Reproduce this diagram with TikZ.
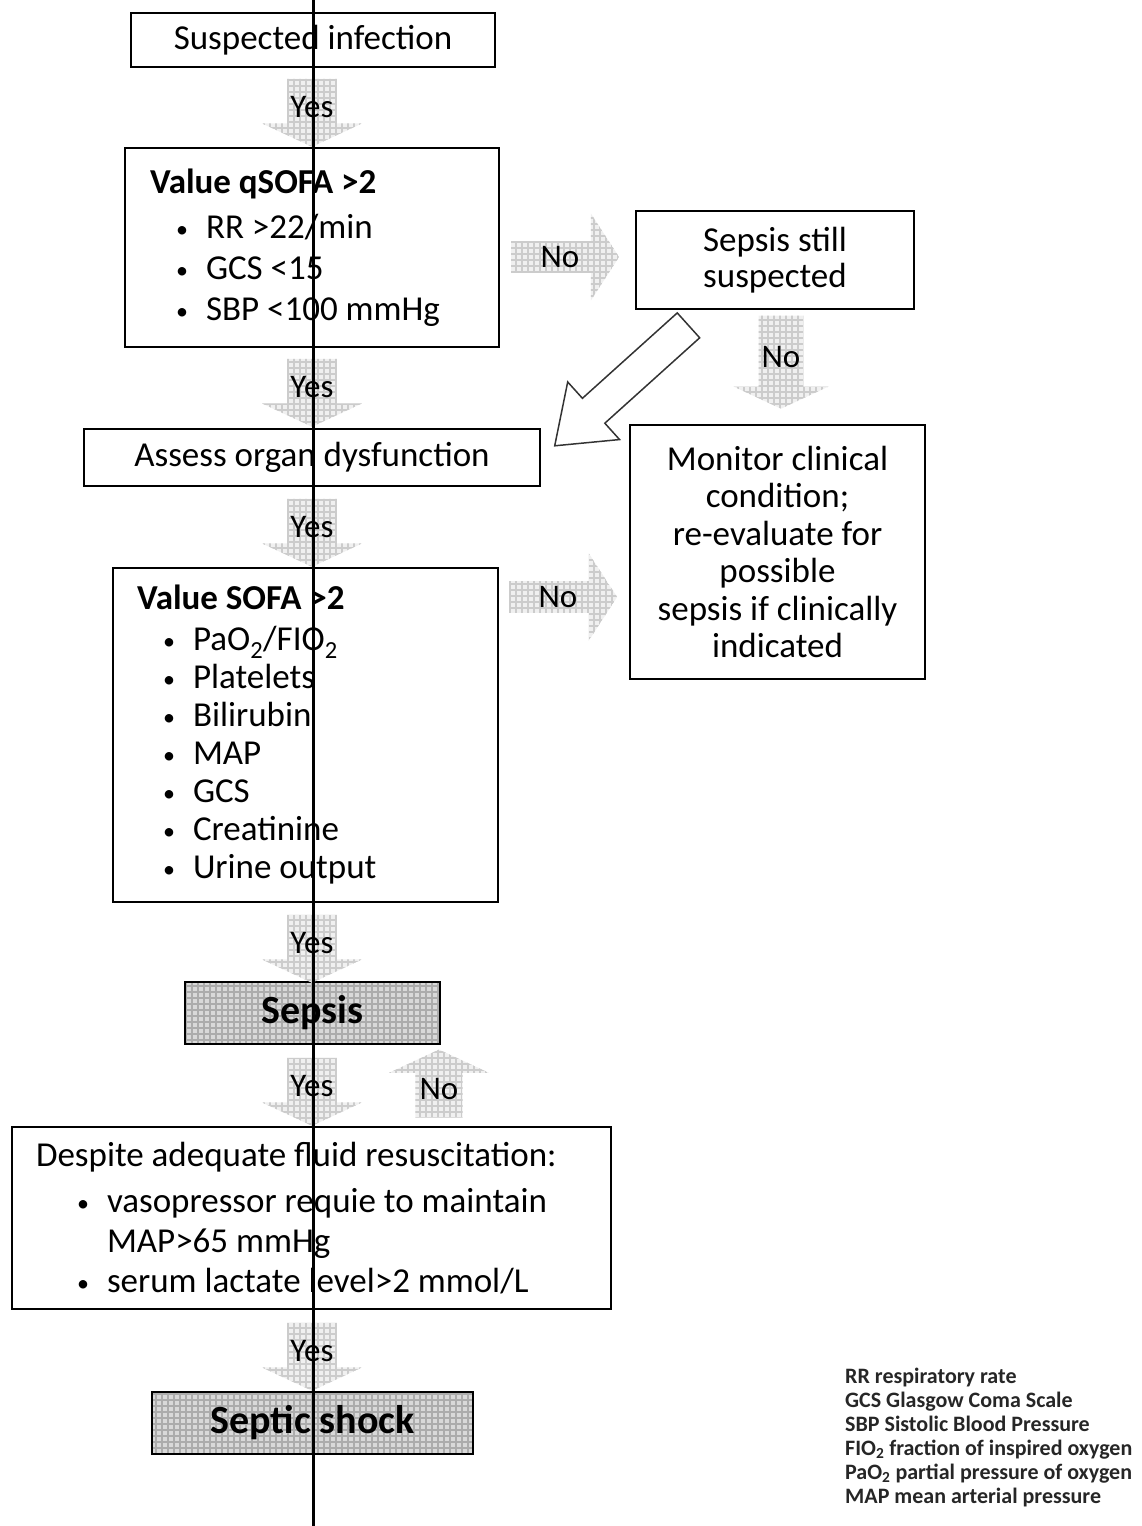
\documentclass[tikz,border=0pt]{standalone}
\usepackage{fontspec}
\setmainfont{Carlito}
\usetikzlibrary{shapes.arrows,patterns.meta}
\newcommand{\sepbullet}{\makebox[30pt][l]{\raisebox{1pt}{\fontsize{24}{24}\selectfont\textbullet}}}

\begin{document}
\begin{tikzpicture}[x=1pt,y=-1pt,
  box/.style={draw,line width=2.5pt,rectangle,inner sep=0pt,font=\fontsize{35}{36}\selectfont},
  shaded/.style={box,preaction={fill=gray!30},pattern={Hatch[angle=0,distance=6pt,line width=1.4pt]},pattern color=gray!65,font=\fontsize{40}{40}\bfseries},
  blockarrow/.style={single arrow,preaction={fill=gray!12},pattern={Hatch[angle=0,distance=6pt,line width=1.4pt]},pattern color=gray!40,inner sep=0pt,minimum height=68pt,minimum width=100pt,single arrow head extend=22pt,single arrow tip angle=130,font=\fontsize{33}{34}\selectfont},
  sidearrow/.style={blockarrow,minimum height=108pt,minimum width=87pt,single arrow head extend=19pt,single arrow tip angle=114},
  hollowarrow/.style={single arrow,draw=black!80,line width=1.5pt,inner xsep=0pt,inner ysep=16pt,minimum height=180pt,single arrow head extend=22pt,single arrow tip angle=73}]
\useasboundingbox (0,0) rectangle (1141,1526);

\node [box,minimum width=364pt,minimum height=54pt] (inf) at (313,40) {Suspected infection};
\node [box,minimum width=374pt,minimum height=199pt,text width=324pt,inner xsep=25pt,align=flush left,font=\fontsize{35}{41}\selectfont] (qsofa) at (312,247.5)
  {\textbf{Value qSOFA >2}\\[4pt]
   \hspace*{26pt}\sepbullet RR >22/min\\
   \hspace*{26pt}\sepbullet GCS <15\\
   \hspace*{26pt}\sepbullet SBP <100 mmHg};
\node [box,minimum width=278pt,minimum height=98pt,align=center] (still) at (775,260) {Sepsis still\\suspected};
\node [box,minimum width=456pt,minimum height=57pt] (organ) at (312,457.5) {Assess organ dysfunction};
\node [box,minimum width=295pt,minimum height=254pt,align=center,font=\fontsize{35}{37.5}\selectfont] (monitor) at (777.5,552)
  {Monitor clinical\\condition;\\re-evaluate for\\possible\\sepsis if clinically\\indicated};
\node [box,minimum width=385pt,minimum height=334pt,text width=337pt,inner xsep=24pt,align=flush left,font=\fontsize{35}{38}\selectfont] (sofa) at (305.5,735)
  {\textbf{Value SOFA >2}\\[3pt]
   \hspace*{26pt}\sepbullet PaO\textsubscript{2}/FIO\textsubscript{2}\\
   \hspace*{26pt}\sepbullet Platelets\\
   \hspace*{26pt}\sepbullet Bilirubin\\
   \hspace*{26pt}\sepbullet MAP\\
   \hspace*{26pt}\sepbullet GCS\\
   \hspace*{26pt}\sepbullet Creatinine\\
   \hspace*{26pt}\sepbullet Urine output};
\node [shaded,minimum width=255pt,minimum height=62pt] (sepsis) at (312.5,1013) {Sepsis};
\node [box,minimum width=599pt,minimum height=182pt,text width=551pt,inner xsep=24pt,align=flush left,font=\fontsize{35}{40}\selectfont] (despite) at (311.5,1218)
  {Despite adequate fluid resuscitation:\\[6pt]
   \hspace*{41pt}\sepbullet vasopressor requie to maintain\\
   \hspace*{71pt}MAP>65 mmHg\\
   \hspace*{41pt}\sepbullet serum lactate level>2 mmol/L};
\node [shaded,minimum width=321pt,minimum height=62pt] (shock) at (312.5,1423) {Septic shock};

\node [blockarrow,shape border rotate=270] (y1) at (312,107) {Yes};
\node [blockarrow,shape border rotate=270] (y2) at (312,387) {Yes};
\node [blockarrow,shape border rotate=270] (y3) at (312,527) {Yes};
\node [blockarrow,shape border rotate=270] (y4) at (312,943) {Yes};
\node [blockarrow,shape border rotate=270] (y5) at (312,1086) {Yes};
\node [blockarrow,shape border rotate=90] (nup) at (439,1089) {No};
\node [blockarrow,shape border rotate=270] (y6) at (312,1351) {Yes};
\node [sidearrow] (n1) at (560,257) {No};
\node [blockarrow,shape border rotate=270,minimum height=93pt,minimum width=95pt] (n2) at (781,357) {No};
\node [sidearrow] (n3) at (558,597) {No};
\node [hollowarrow,rotate=222] (back) at (630,378) {};

\node [anchor=north west,align=flush left,inner sep=0pt,text=black!85,font=\fontsize{22}{24}\bfseries] (legend) at (845,1368)
  {RR respiratory rate\\
   GCS Glasgow Coma Scale\\
   SBP Sistolic Blood Pressure\\
   FIO\textsubscript{2} fraction of inspired oxygen\\
   PaO\textsubscript{2} partial pressure of oxygen\\
   MAP mean arterial pressure};

\coordinate (top) at (313,0);
\coordinate (bottom) at (313,1526);
\draw [line width=3pt] (top) -- (bottom);
\end{tikzpicture}
\end{document}
